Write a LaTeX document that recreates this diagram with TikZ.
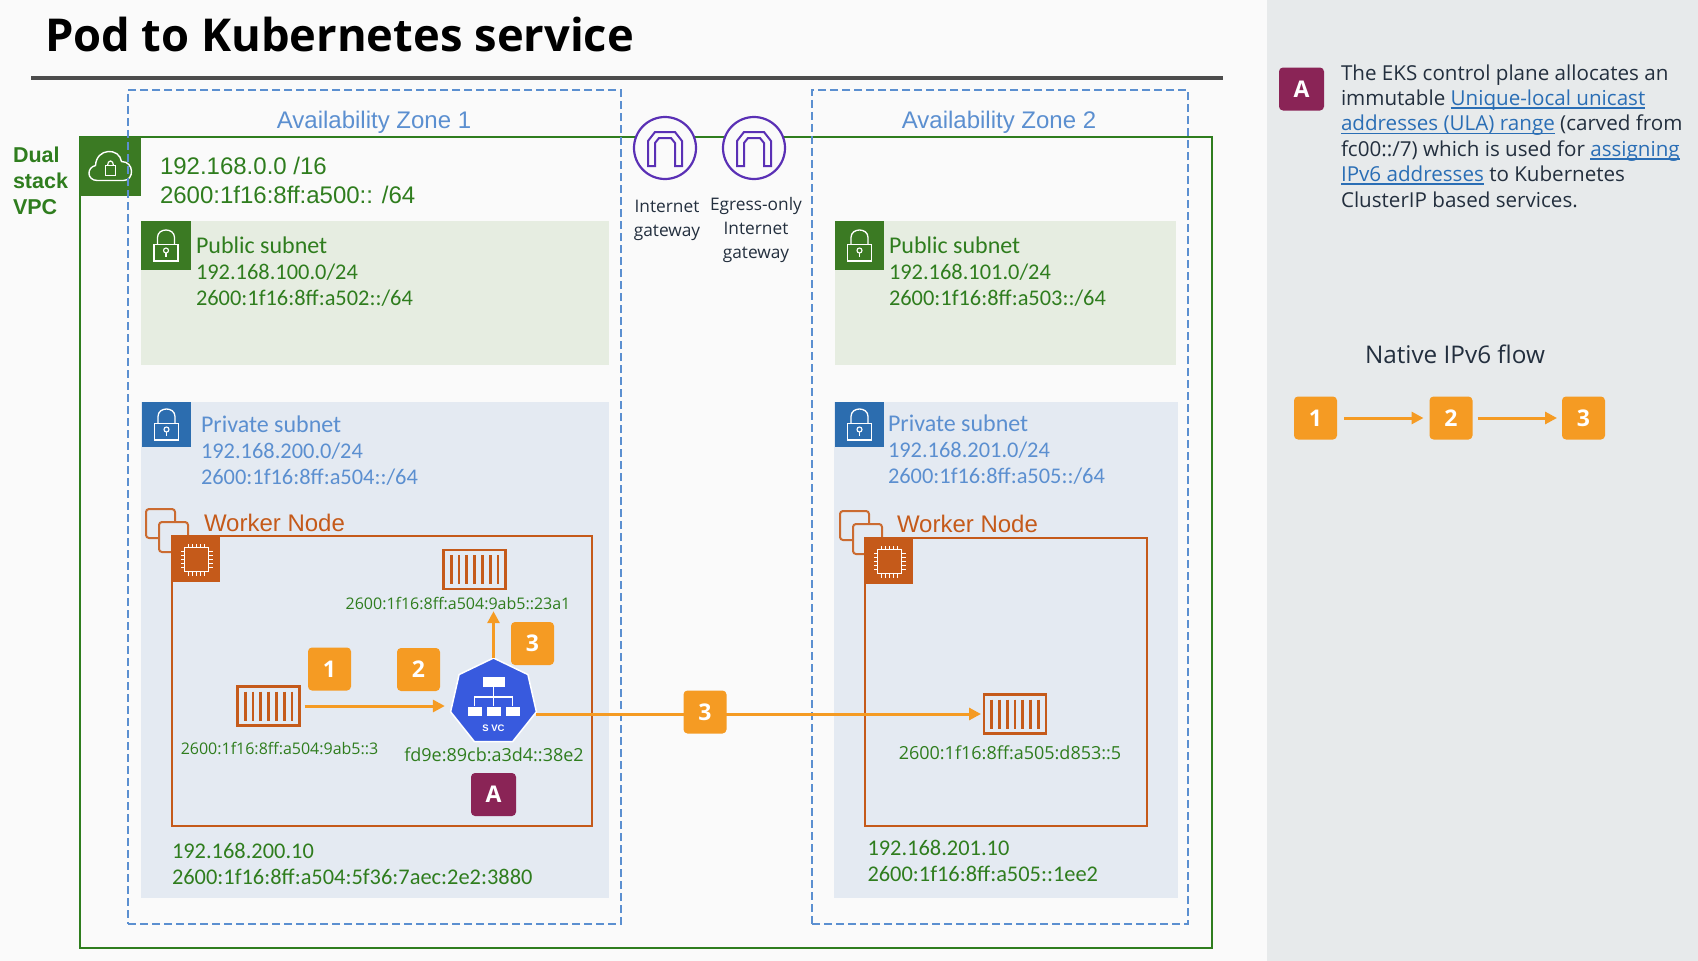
\documentclass[tikz,border=0pt]{standalone}
\usepackage{fontspec}
\usepackage{xcolor}
\usetikzlibrary{shapes.geometric, arrows.meta, positioning}
\newfontfamily\emberfont{Open Sans}
\newfontfamily\calfont{Carlito}
\newfontfamily\helvfont{Liberation Sans}
\definecolor{canvasgray}{HTML}{FAFAFA}
\definecolor{panelgray}{HTML}{E7EAEB}
\definecolor{inkdark}{HTML}{232F3E}
\definecolor{vpcgreen}{HTML}{2F7D1E}
\definecolor{tilegreen}{HTML}{3B7A23}
\definecolor{pubfill}{HTML}{E6EDE1}
\definecolor{privfill}{HTML}{E4EAF2}
\definecolor{tileblue}{HTML}{2C6DAF}
\definecolor{zoneblue}{HTML}{5B8FD0}
\definecolor{nodeorange}{HTML}{C55A1A}
\definecolor{flowamber}{HTML}{F59B23}
\definecolor{notewine}{HTML}{8A2456}
\definecolor{gatepurple}{HTML}{5A30B5}
\definecolor{svcblue}{HTML}{385ADE}
\definecolor{linkblue}{HTML}{2A6EB5}
\newcommand{\weblink}[1]{\leavevmode\setbox0\hbox{\textcolor{linkblue}{#1}}\rlap{\textcolor{linkblue}{\rule[-3.5pt]{\wd0}{1.8pt}}}\box0 }
\newcommand{\leadsize}{\fontsize{24}{26}\selectfont}
\tikzset{
  pics/cloudlock/.style={code={
    \draw[white, line width=1.4] (-13,14) .. controls (-24,14) and (-24,1) .. (-15,-1)
      .. controls (-14,-19) and (9,-19) .. (11,-5) .. controls (24,-5) and (24,14) .. (13,14) -- cycle;
    \draw[white, line width=1.2] (-5,-1) rectangle (5,9);
    \draw[white, line width=1.2] (-3,-1) .. controls (-3,-7) and (3,-7) .. (3,-1);
  }},
  pics/padlock/.style={code={
    \draw[white, line width=1.3] (-12,-1) rectangle (12,15.5);
    \draw[white, line width=1.3] (-8.5,-1) -- (-8.5,-8) .. controls (-8.5,-18) and (8.5,-18) .. (8.5,-8) -- (8.5,-1);
    \draw[white, line width=1.1] (0,5) circle[radius=2.5];
    \draw[white, line width=1.1] (0,7.5) -- (0,11.5);
  }},
  pics/chipmark/.style={code={
    \draw[white, line width=0.9] (-12,-12) rectangle (12,12);
    \foreach \tickpos in {-8,-4,0,4,8} {
      \draw[white, line width=0.7] (\tickpos,-12) -- (\tickpos,-16);
      \draw[white, line width=0.7] (\tickpos,12) -- (\tickpos,16);
      \draw[white, line width=0.7] (-12,\tickpos) -- (-16,\tickpos);
      \draw[white, line width=0.7] (12,\tickpos) -- (16,\tickpos);
    }
  }},
  pics/podbars/.style={code={
    \foreach \barpos in {-23.4,-15.6,-7.8,0,7.8,15.6,23.4}
      \draw[nodeorange, line width=2.8] (\barpos,-14.5) -- (\barpos,14.5);
  }},
  pics/archmark/.style={code={
    \draw[gatepurple, line width=2] (-17,18) -- (-17,-7) -- (-10,-16) -- (10,-16) -- (17,-7) -- (17,18)
      -- (10,18) -- (10,-5) -- (6,-10) -- (-6,-10) -- (-10,-5) -- (-10,18) -- cycle;
  }},
  pics/stackmark/.style={code={
    \draw[nodeorange!90, line width=2, rounded corners=3pt] (0,0) rectangle (29,29);
    \draw[nodeorange!90, line width=2, rounded corners=3pt, fill=privfill] (13,13) rectangle (42,43);
  }},
  pics/svcmark/.style={code={
    \fill[white] (-11,-25) rectangle (11,-15);
    \draw[white, line width=1.6] (0,-15) -- (0,4);
    \draw[white, line width=1.6] (-19,4) -- (-19,-5) -- (19,-5) -- (19,4);
    \fill[white] (-26,5) rectangle (-12,14);
    \fill[white] (-7,5) rectangle (7,14);
    \fill[white] (12,5) rectangle (26,14);
  }}
}
\begin{document}
\begin{tikzpicture}[
  x=1pt, y=-1pt,
  every node/.style={inner sep=0pt, outer sep=0pt},
  areabox/.style={anchor=north west},
  zonebox/.style={areabox, draw=zoneblue, line width=1.5pt, dash pattern=on 8pt off 4pt},
  zonetext/.style={font=\fontsize{24}{24}\selectfont\helvfont, text=zoneblue},
  tile/.style={areabox, minimum width=#1},
  subnettext/.style={anchor=west, align=left, font=\fontsize{22.4}{26}\selectfont\calfont},
  hosttext/.style={anchor=west, align=left, text=vpcgreen, font=\fontsize{22.4}{26.5}\selectfont\calfont},
  podbox/.style={draw=nodeorange, line width=2.4pt, minimum width=62pt, minimum height=39pt},
  podsmall/.style={text=vpcgreen, font=\fontsize{16}{16}\selectfont\emberfont},
  podlarge/.style={text=vpcgreen, font=\fontsize{18}{18}\selectfont\emberfont},
  workerbox/.style={areabox, draw=nodeorange, line width=2pt},
  workertext/.style={anchor=west, text=nodeorange, font=\fontsize{24}{24}\selectfont\helvfont},
  badge/.style={fill=flowamber, rounded corners=4pt, minimum width=43pt, minimum height=43pt,
                text=white, font=\fontsize{23}{23}\selectfont\bfseries\emberfont},
  notebadge/.style={fill=notewine, rounded corners=4pt, minimum width=45pt, minimum height=43pt,
                text=white, font=\fontsize{23}{23}\selectfont\bfseries\emberfont},
  flow/.style={-{Triangle[length=12pt,width=12pt]}, draw=flowamber, line width=3pt},
  gate/.style={circle, draw=gatepurple, fill=canvasgray, line width=2.2pt, minimum size=62pt},
  gatetext/.style={align=center, text=inkdark, font=\fontsize{17.3}{24}\selectfont\emberfont}
]
  \useasboundingbox (0,0) rectangle (1698,961);
  \node[areabox, fill=canvasgray, minimum width=1267pt, minimum height=961pt] (canvas) at (0,0) {};
  \node[areabox, fill=panelgray, minimum width=431pt, minimum height=961pt] (panel) at (1267,0) {};

  \node[anchor=base west, text=black, font=\fontsize{45.3}{45}\selectfont\bfseries\emberfont] (title) at (45,51.5) {Pod to Kubernetes service};
  \node[areabox, fill=black!70, minimum width=1192pt, minimum height=4pt] (titlerule) at (31,76) {};

  \node[areabox, draw=vpcgreen, line width=2pt, minimum width=1132pt, minimum height=811pt] (vpc) at (80,137) {};
  \node[tile=61pt, fill=tilegreen, minimum height=59pt] (vpctile) at (80,137) {};
  \pic at (vpctile) {cloudlock};
  \node[anchor=west, align=left, text=vpcgreen, font=\fontsize{21.5}{26.3}\selectfont\bfseries\helvfont] (vpcname) at (13,181) {Dual\\stack\\VPC};
  \node[anchor=west, align=left, text=vpcgreen, font=\fontsize{24}{29}\selectfont\helvfont] (vpccidr) at (160,180) {192.168.0.0 /16\\2600:1f16:8ff:a500:: /64};

  \node[areabox, fill=pubfill, minimum width=468pt, minimum height=144pt] (pub1) at (141,221) {};
  \node[areabox, fill=pubfill, minimum width=341pt, minimum height=144pt] (pub2) at (835,221) {};
  \node[areabox, fill=privfill, minimum width=468pt, minimum height=496pt] (priv1) at (141,402) {};
  \node[areabox, fill=privfill, minimum width=344pt, minimum height=496pt] (priv2) at (834,402) {};

  \node[zonebox, minimum width=493pt, minimum height=834pt] (zone1) at (128,90) {};
  \node[zonebox, minimum width=376pt, minimum height=834pt] (zone2) at (812,90) {};
  \node[zonetext] (zone1name) at (374,122) {Availability Zone 1};
  \node[zonetext] (zone2name) at (999,122) {Availability Zone 2};

  \node[gate] (igw) at (665,148) {};
  \node[gate] (egw) at (754,148) {};
  \pic at (igw) {archmark};
  \pic at (egw) {archmark};
  \node[gatetext] (igwname) at (667,220.5) {Internet\\gateway};
  \node[gatetext] (egwname) at (756,230) {Egress-only\\Internet\\gateway};

  \node[tile=50pt, fill=tilegreen, minimum height=49pt] (pub1tile) at (141,221) {};
  \pic at (pub1tile) {padlock};
  \node[subnettext, text=vpcgreen] (pub1text) at (196,271.5) {\leadsize Public subnet\\192.168.100.0/24\\2600:1f16:8ff:a502::/64};
  \node[tile=49pt, fill=tilegreen, minimum height=49pt] (pub2tile) at (835,221) {};
  \pic at (pub2tile) {padlock};
  \node[subnettext, text=vpcgreen] (pub2text) at (889,271.5) {\leadsize Public subnet\\192.168.101.0/24\\2600:1f16:8ff:a503::/64};

  \node[tile=49pt, fill=tileblue, minimum height=45pt] (priv1tile) at (142,402) {};
  \pic at (priv1tile) {padlock};
  \node[subnettext, text=zoneblue] (priv1text) at (201,450.5) {\leadsize Private subnet\\192.168.200.0/24\\2600:1f16:8ff:a504::/64};
  \node[tile=49pt, fill=tileblue, minimum height=45pt] (priv2tile) at (835,402) {};
  \pic at (priv2tile) {padlock};
  \node[subnettext, text=zoneblue] (priv2text) at (888,449.5) {\leadsize Private subnet\\192.168.201.0/24\\2600:1f16:8ff:a505::/64};

  \pic at (146,509) {stackmark};
  \pic at (840,511) {stackmark};
  \node[workertext] (worker1name) at (204,523) {Worker Node};
  \node[workertext] (worker2name) at (897,524) {Worker Node};
  \node[workerbox, minimum width=420pt, minimum height=290pt] (worker1) at (172,536) {};
  \node[workerbox, minimum width=282pt, minimum height=288pt] (worker2) at (865,538) {};
  \node[tile=47pt, fill=nodeorange, minimum height=45pt] (chip1) at (173,537) {};
  \node[tile=47pt, fill=nodeorange, minimum height=45pt] (chip2) at (866,539) {};
  \pic at (chip1) {chipmark};
  \pic at (chip2) {chipmark};
  \node[hosttext] (host1) at (172,864) {192.168.200.10\\2600:1f16:8ff:a504:5f36:7aec:2e2:3880};
  \node[hosttext] (host2) at (867.5,861) {192.168.201.10\\2600:1f16:8ff:a505::1ee2};

  \node[podbox] (podtop) at (474.5,569.5) {};
  \node[podbox] (podleft) at (268.5,706) {};
  \node[podbox] (podright) at (1015,714) {};
  \pic at (podtop) {podbars};
  \pic at (podleft) {podbars};
  \pic at (podright) {podbars};
  \node[podsmall] (podtopip) at (458,603) {2600:1f16:8ff:a504:9ab5::23a1};
  \node[podsmall] (podleftip) at (279.5,748) {2600:1f16:8ff:a504:9ab5::3};
  \node[podlarge] (podrightip) at (1010,753) {2600:1f16:8ff:a505:d853::5};

  \node[regular polygon, regular polygon sides=7, fill=svcblue, draw=white, line width=1.5pt, minimum size=88pt] (svc) at (493.5,702) {};
  \pic at (svc) {svcmark};
  \node[text=white, font=\fontsize{9.5}{9.5}\selectfont\bfseries\helvfont] (svctag) at (493.5,728) {S VC};
  \node[podlarge] (svcip) at (494,755) {fd9e:89cb:a3d4::38e2};

  \draw[flow, shorten <=5pt, shorten >=8pt] (podleft.east) -- (podleft.east -| svc.west);
  \draw[flow, shorten >=2pt] (svc.north) -- (svc.north |- podtopip.south);
  \draw[flow, shorten >=3pt] (svc.corner 6 |- podright.west) -- (podright.west);

  \node[badge] (step1) at (329.5,669) {1};
  \node[badge] (step2) at (418.5,669.5) {2};
  \node[badge] (step3up) at (532.5,643.5) {3};
  \node[badge] (step3out) at (705,712) {3};
  \node[notebadge] (noteA) at (493.5,794.5) {A};

  \node[notebadge] (keyA) at (1301.5,89) {A};
  \node[anchor=north west, align=left, text=inkdark, font=\fontsize{20.6}{25.4}\selectfont\emberfont] (keytext) at (1341,64.5)
    {The EKS control plane allocates an\\
     immutable \weblink{Unique-local unicast}\\
     \weblink{addresses (ULA) range} (carved from\\
     fc00::/7) which is used for \weblink{assigning}\\
     \weblink{IPv6 addresses} to Kubernetes\\
     ClusterIP based services.};
  \node[anchor=base west, text=inkdark, font=\fontsize{24.3}{24}\selectfont\emberfont] (flowname) at (1365,363) {Native IPv6 flow};
  \node[badge] (key1) at (1315.5,418) {1};
  \node[badge] (key2) at (1451,418) {2};
  \node[badge] (key3) at (1583.5,418) {3};
  \draw[flow, shorten <=7pt, shorten >=6pt] (key1) -- (key2);
  \draw[flow, shorten <=5pt, shorten >=5pt] (key2) -- (key3);
\end{tikzpicture}
\end{document}
